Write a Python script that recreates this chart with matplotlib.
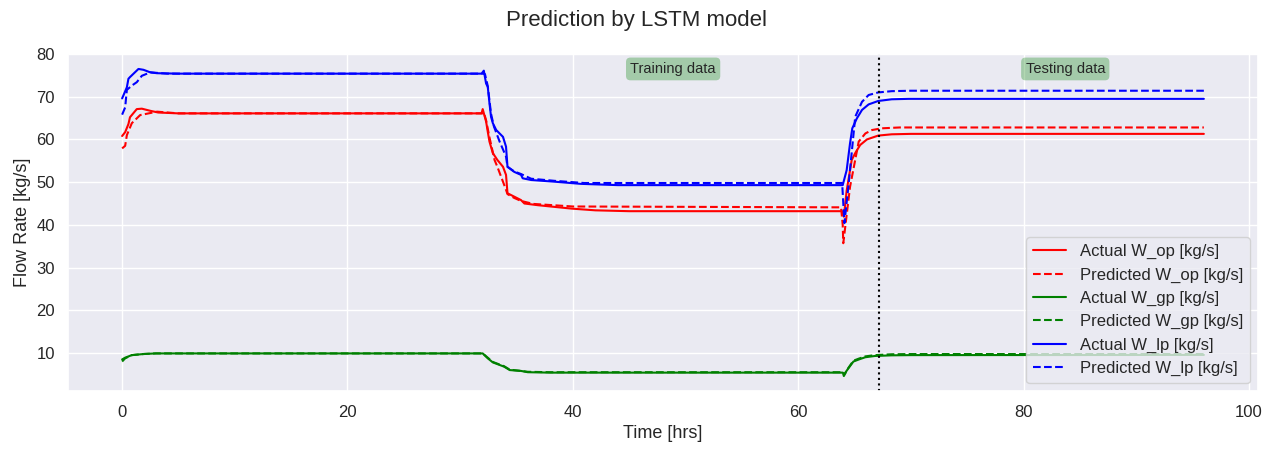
import matplotlib
matplotlib.use('Agg')
import matplotlib.pyplot as plt
import seaborn as sns

sns.set_theme(style='darkgrid')
plt.rcParams['font.family'] = ['Arial', 'Liberation Sans', 'DejaVu Sans']

# W_op (red)
t_op_act = [0, 0.27, 0.56, 0.7, 1.3, 1.75, 2.5, 3.2, 5, 31.9, 32.0, 32.3, 32.45, 32.6, 32.9, 33.3,
            33.8, 34.07, 34.2, 34.8, 35.4, 35.7, 36.9, 39.9, 42, 45, 63.9, 64.05, 64.3, 64.75, 65.06,
            65.5, 66.1, 67.1, 68.3, 70, 96]
w_op_act = [60.8, 61.7, 63.6, 65.2, 67.1, 67.2, 66.7, 66.3, 66.1, 66.1, 67.1, 64.2, 61.8, 59.5, 56.8, 55.2,
            53.6, 51.7, 47.4, 46.6, 45.8, 45.0, 44.6, 43.8, 43.4, 43.2, 43.2, 41.9, 48.0, 55.2, 56.8,
            58.7, 60.0, 60.9, 61.2, 61.3, 61.3]
t_op_pred = [0, 0.27, 0.42, 0.86, 1.6, 3.1, 5, 32.0, 32.1, 32.3, 32.6, 33.05, 33.3, 33.8, 34.07, 34.2,
             34.8, 35.4, 36.5, 40, 63.8, 63.95, 64.0, 64.6, 65.37, 65.96, 66.55, 67.4, 69, 96]
w_op_pred = [57.9, 58.5, 61.0, 63.8, 65.7, 66.5, 66.1, 66.1, 66.3, 64.5, 60.5, 55.2, 53.6, 50.1, 48.2, 47.2,
             46.3, 45.6, 44.9, 44.3, 44.1, 40.0, 35.7, 48.9, 59.5, 61.4, 62.2, 62.6, 62.8, 62.8]

# W_gp (green)
t_gp_act = [0, 0.27, 0.86, 1.9, 3, 32.0, 32.45, 32.9, 33.5, 33.9, 34.4, 35.4, 36.0, 38, 63.95, 64.1,
            64.45, 64.9, 65.4, 65.95, 66.8, 68.3, 70, 96]
w_gp_act = [8.5, 8.9, 9.5, 9.76, 9.9, 9.9, 8.75, 7.8, 7.2, 6.8, 6.0, 5.8, 5.5, 5.4, 5.4, 5.1,
            6.4, 8.0, 8.5, 9.0, 9.3, 9.45, 9.5, 9.55]
t_gp_pred = [0, 0.27, 0.86, 1.9, 3, 32.0, 32.45, 32.9, 33.5, 33.9, 34.4, 35.4, 36.0, 38, 63.95, 64.05,
             64.45, 64.9, 65.4, 65.95, 66.8, 68.3, 70, 96]
w_gp_pred = [8.0, 8.75, 9.5, 9.76, 9.9, 9.9, 8.9, 7.9, 7.3, 6.9, 6.1, 5.8, 5.6, 5.5, 5.5, 4.6,
             6.5, 8.2, 8.7, 9.2, 9.5, 9.7, 9.75, 9.75]

# W_lp (blue)
t_lp_act = [0, 0.42, 0.56, 0.7, 1.45, 1.9, 2.5, 3.1, 5, 31.9, 32.1, 32.3, 32.45, 32.6, 32.74, 32.9,
            33.2, 33.8, 34.07, 34.2, 34.8, 35.4, 35.55, 36.3, 38.4, 40.7, 44, 63.95, 64.3, 64.6,
            64.8, 65.2, 65.66, 66.25, 67.1, 68.3, 69.8, 96]
w_lp_act = [69.6, 72.2, 74.2, 74.6, 76.5, 76.3, 75.7, 75.5, 75.4, 75.4, 76.1, 73.1, 72.3, 68.5, 65.3, 63.8,
            62.2, 60.6, 58.3, 53.6, 52.4, 51.7, 50.9, 50.5, 50.1, 49.6, 49.3, 49.3, 52.8, 59.1,
            62.6, 64.9, 66.9, 68.2, 69.0, 69.4, 69.5, 69.5]
t_lp_pred = [0, 0.27, 0.42, 0.86, 1.3, 1.75, 2.5, 4, 32.0, 32.2, 32.45, 32.74, 33.0, 33.5, 34.07, 34.2,
             34.8, 35.4, 36.3, 38.4, 41, 63.9, 64.1, 64.45, 65.06, 65.66, 66.25, 67.1, 68.3, 70, 96]
w_lp_pred = [65.8, 67.5, 71.6, 72.6, 73.4, 74.9, 75.7, 75.4, 75.4, 75.3, 72.5, 66.0, 63.0, 59.5, 56.0, 53.6,
             52.5, 51.9, 50.8, 50.3, 49.8, 49.8, 40.4, 48.9, 65.3, 68.8, 70.4, 71.0, 71.3, 71.4, 71.4]

split_time = 67.2

fig = plt.figure(figsize=(12.74, 4.5), dpi=100)
ax = fig.add_axes([0.0534, 0.1302, 0.934, 0.7507])

ax.plot(t_op_act, w_op_act, color='red', label='Actual W_op [kg/s]')
ax.plot(t_op_pred, w_op_pred, color='red', linestyle='--', label='Predicted W_op [kg/s]')
ax.plot(t_gp_act, w_gp_act, color='green', label='Actual W_gp [kg/s]')
ax.plot(t_gp_pred, w_gp_pred, color='green', linestyle='--', label='Predicted W_gp [kg/s]')
ax.plot(t_lp_act, w_lp_act, color='blue', label='Actual W_lp [kg/s]')
ax.plot(t_lp_pred, w_lp_pred, color='blue', linestyle='--', label='Predicted W_lp [kg/s]')

ax.axvline(split_time, color='black', linestyle=':', linewidth=1.5)

box = dict(boxstyle='round', facecolor='green', alpha=0.3, edgecolor='none')
ax.text(48.9, 76.5, 'Training data', ha='center', va='center', fontsize=10.5, bbox=box)
ax.text(83.7, 76.5, 'Testing data', ha='center', va='center', fontsize=10.5, bbox=box)

ax.set_xlabel('Time [hrs]', fontsize=13)
ax.set_ylabel('Flow Rate [kg/s]', fontsize=13)
ax.tick_params(labelsize=12)
ax.legend(loc='lower right', fontsize=12)
fig.suptitle('Prediction by LSTM model', fontsize=16, y=0.978)

fig.savefig('out.png', dpi=100)
